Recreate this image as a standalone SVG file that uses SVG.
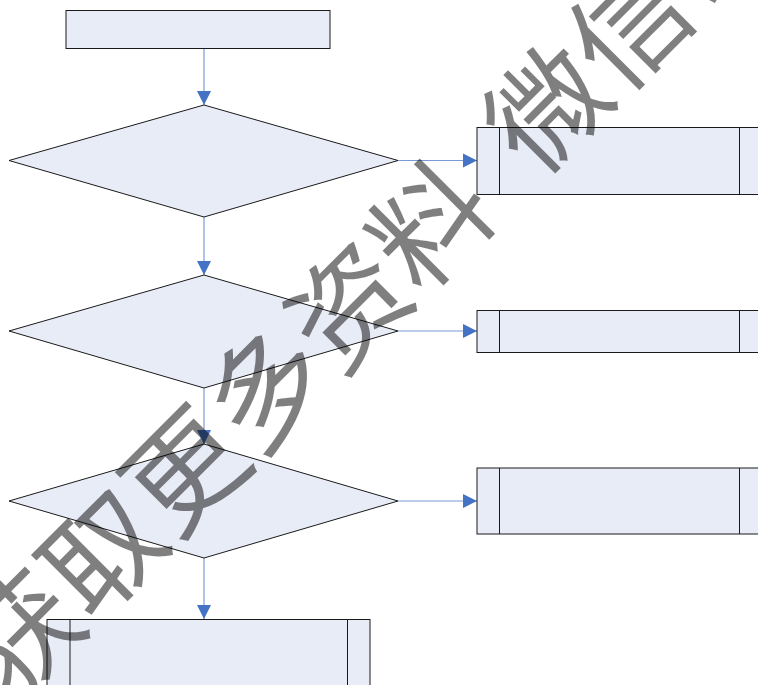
<svg xmlns="http://www.w3.org/2000/svg" width="758" height="685" viewBox="0 0 758 685">
<style>
.n{fill:#E8ECF7;stroke:#1a1a1a;stroke-width:1}
.c{fill:none;stroke:#7A9CD6;stroke-width:1.2}
.wm{font-family:"Noto Sans CJK SC","Noto Sans",sans-serif;font-size:116px;fill:#000;fill-opacity:0.5}
</style>
<defs>
<marker id="ah" markerUnits="userSpaceOnUse" markerWidth="16" markerHeight="16" viewBox="0 0 16 16" refX="15" refY="8" orient="auto">
<path d="M1,1 L15,8 L1,15 Z" fill="#4472C4"/>
</marker>
</defs>
<rect width="758" height="685" fill="#fff"/>
<g id="connectors">
<line class="c" x1="204" y1="48" x2="204" y2="105" marker-end="url(#ah)"/>
<line class="c" x1="204" y1="217" x2="204" y2="275" marker-end="url(#ah)"/>
<line class="c" x1="204" y1="388" x2="204" y2="444" marker-end="url(#ah)"/>
<line class="c" x1="204" y1="558" x2="204" y2="619" marker-end="url(#ah)"/>
<line class="c" x1="398" y1="160.5" x2="477" y2="160.5" marker-end="url(#ah)"/>
<line class="c" x1="398" y1="331" x2="477" y2="331" marker-end="url(#ah)"/>
<line class="c" x1="398" y1="501" x2="477" y2="501" marker-end="url(#ah)"/>
</g>
<g id="start"><rect class="n" x="66" y="10.5" width="264" height="38"/></g>
<g id="decision1"><polygon class="n" points="204,105 398,160.5 204,217 9,160.5"/></g>
<g id="decision2"><polygon class="n" points="204,275 398,331 204,388 9,331"/></g>
<g id="decision3"><polygon class="n" points="204,444 398,501 204,558 9,501"/></g>
<g id="process1"><rect class="n" x="477" y="127.5" width="300" height="67"/><line class="n" x1="499.5" y1="127.5" x2="499.5" y2="194.5"/><line class="n" x1="739.5" y1="127.5" x2="739.5" y2="194.5"/></g>
<g id="process2"><rect class="n" x="477" y="310.5" width="300" height="42"/><line class="n" x1="499.5" y1="310.5" x2="499.5" y2="352.5"/><line class="n" x1="739.5" y1="310.5" x2="739.5" y2="352.5"/></g>
<g id="process3"><rect class="n" x="477" y="468" width="300" height="66"/><line class="n" x1="499.5" y1="468" x2="499.5" y2="534"/><line class="n" x1="739.5" y1="468" x2="739.5" y2="534"/></g>
<g id="process4"><rect class="n" x="47" y="619.5" width="323" height="90"/><line class="n" x1="70" y1="619.5" x2="70" y2="700"/><line class="n" x1="347.5" y1="619.5" x2="347.5" y2="700"/></g>
<g id="watermark" transform="translate(10,706) rotate(-45)">
<text class="wm" x="0" y="0">获取更多资料</text>
<text class="wm" x="745" y="0">微信公众号</text>
</g>
</svg>
